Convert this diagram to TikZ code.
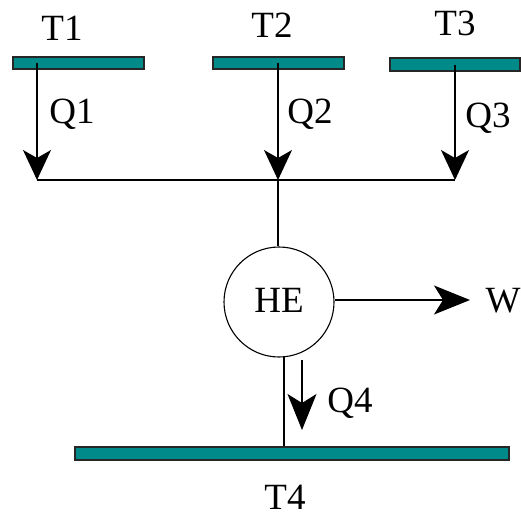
\documentclass[tikz,border=0pt]{standalone}
\usepackage{fontspec}
\setmainfont{Liberation Serif}
\usetikzlibrary{arrows.meta}
\definecolor{reservoirfill}{RGB}{0,138,138}
\begin{document}
\begin{tikzpicture}[x=1pt,y=-1pt,
  reservoir/.style={draw=black!85, line width=1.3pt, fill=reservoirfill, inner sep=0pt, minimum height=12pt},
  lbl/.style={font=\fontsize{37}{40}\selectfont, inner sep=0pt, anchor=base},
  wire/.style={line width=1.4pt},
  flow/.style={wire, -{Stealth[length=30pt,width=28pt,inset=8pt]}},
  bigflow/.style={wire, -{Stealth[length=36pt,width=29pt,inset=9pt]}},
  engine/.style={circle, draw, line width=1.1pt, minimum size=110pt, inner sep=0pt}]
\useasboundingbox (0,0) rectangle (521,517);

% heat reservoirs
\node[reservoir, minimum width=131pt] (r1) at (78.5,63) {};
\node[reservoir, minimum width=131pt] (r2) at (278.5,63) {};
\node[reservoir, minimum width=130pt, minimum height=13pt] (r3) at (455,64.5) {};
\node[reservoir, minimum width=434pt, minimum height=13pt] (r4) at (292,453.5) {};

% reservoir temperatures
\node[lbl] (t1) at (62,40) {T1};
\node[lbl] (t2) at (272,37) {T2};
\node[lbl] (t3) at (455,35) {T3};
\node[lbl] (t4) at (285,509) {T4};

% heat engine
\node[engine] (he) at (279,302) {};
\node[lbl] (helbl) at (279,312) {HE};

% collecting line for the incoming heat
\coordinate (q1) at (37,180);
\coordinate (q2) at (278,180);
\coordinate (q3) at (455,180);
\draw[wire] (q1) -- (q3);
\draw[wire] (q2) -- (q2 |- he.north);

% heat flows from the hot reservoirs
\draw[flow] (q1 |- r1.center) -- (q1);
\draw[flow] (q2 |- r2.center) -- (q2);
\draw[flow] (q3 |- r3.center) -- (q3);
\node[lbl] (q1lbl) at (72,123) {Q1};
\node[lbl] (q2lbl) at (310,123) {Q2};
\node[lbl] (q3lbl) at (488,127) {Q3};

% work output
\coordinate (w) at (470,300);
\draw[bigflow] (he.east |- w) -- (w);
\node[lbl] (wlbl) at (503,312) {W};

% rejected heat to the cold reservoir
\draw[wire] (he.-85) -- (he.-85 |- r4.north);
\coordinate (q4s) at (302,360);
\coordinate (q4e) at (302,430);
\draw[bigflow] (q4s) -- (q4e);
\node[lbl] (q4lbl) at (350,412) {Q4};
\end{tikzpicture}
\end{document}
